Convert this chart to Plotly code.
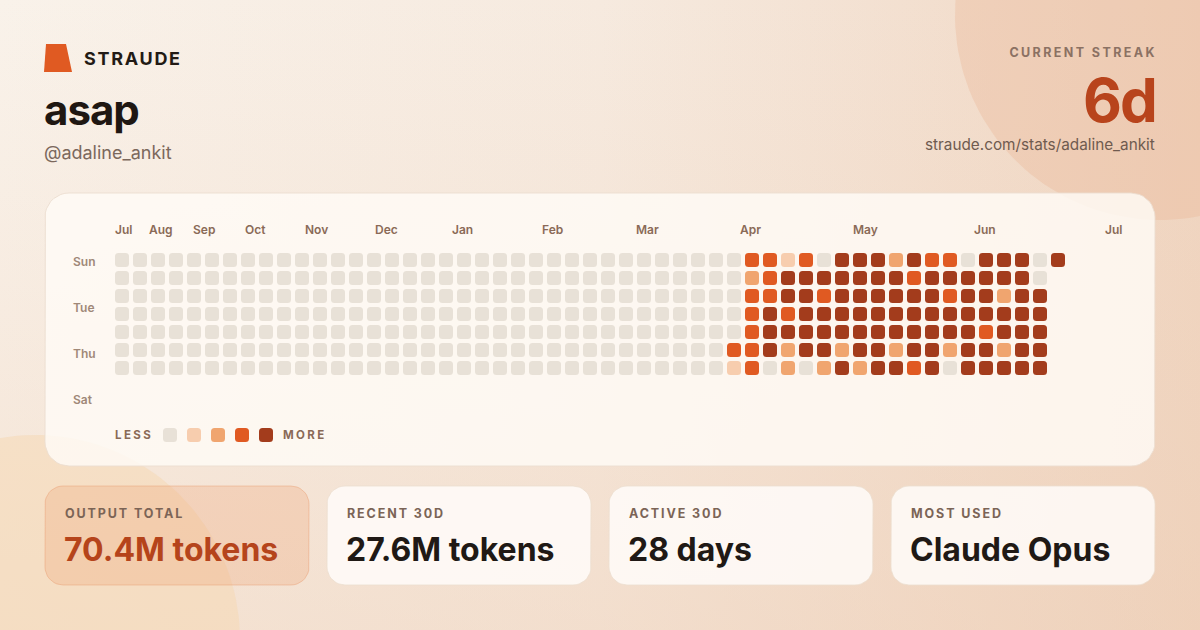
import numpy as np
import plotly.graph_objects as go

W, H = 1200, 630

# ---------------- data ----------------
DAYS = ["Sun", "Mon", "Tue", "Wed", "Thu", "Fri", "Sat"]
N_WEEKS = 53
QUIET_WEEKS = 34  # weeks 0..33 with no activity
# activity level (0-4) per weekday for weeks 34..52 ; None = day not in range
SUN = [0, 3, 3, 1, 3, 0, 4, 4, 4, 2, 4, 3, 3, 0, 4, 4, 4, 0, 4]
MON = [0, 2, 3, 4, 4, 4, 4, 4, 4, 4, 3, 4, 4, 4, 4, 4, 4, 0, None]
TUE = [0, 3, 3, 4, 4, 3, 4, 4, 4, 4, 4, 4, 3, 4, 4, 2, 4, 4, None]
WED = [0, 3, 4, 3, 4, 4, 4, 4, 4, 4, 4, 4, 4, 4, 4, 4, 4, 4, None]
THU = [0, 3, 4, 4, 4, 4, 4, 4, 4, 4, 4, 4, 4, 4, 3, 4, 4, 4, None]
FRI = [3, 3, 4, 2, 4, 4, 2, 4, 4, 2, 4, 4, 2, 4, 4, 2, 4, 4, None]
SAT = [1, 3, 0, 2, 0, 2, 4, 2, 4, 4, 3, 4, 0, 4, 4, 4, 4, 4, None]
ACTIVE_ROWS = [SUN, MON, TUE, WED, THU, FRI, SAT]

MONTHS = ["Jul", "Aug", "Sep", "Oct", "Nov", "Dec", "Jan", "Feb", "Mar", "Apr", "May", "Jun", "Jul"]
MONTH_WEEK_POS = [0.11, 2.17, 4.56, 7.39, 10.83, 14.67, 18.94, 23.89, 29.22, 34.94, 41.28, 47.94, 55.06]

LEVELS = [0, 1, 2, 3, 4]
LEVEL_COLORS = ["#E8E1D7", "#F7CDAE", "#F0A56F", "#E05A22", "#A33C1C"]

USER_NAME = "asap"
USER_HANDLE = "@adaline_ankit"
STREAK = "6d"
PROFILE_URL = "straude.com/stats/adaline_ankit"
STAT_LABELS = ["OUTPUT TOTAL", "RECENT 30D", "ACTIVE 30D", "MOST USED"]
STAT_VALUES = ["70.4M tokens", "27.6M tokens", "28 days", "Claude Opus"]

# ---------------- helpers ----------------
def rrect(x0, y0, x1, y1, r, n=10):
    xs, ys = [], []
    corners = [(x1 - r, y0 + r, -90, 0), (x1 - r, y1 - r, 0, 90),
               (x0 + r, y1 - r, 90, 180), (x0 + r, y0 + r, 180, 270)]
    for cx, cy, a0, a1 in corners:
        t = np.radians(np.linspace(a0, a1, n))
        xs += list(cx + r * np.cos(t))
        ys += list(cy + r * np.sin(t))
    xs.append(xs[0]); ys.append(ys[0])
    return xs, ys


def circle(cx, cy, r, n=160):
    t = np.linspace(0, 2 * np.pi, n)
    return list(cx + r * np.cos(t)), list(cy + r * np.sin(t))


def poly(xs, ys, fill, line="rgba(0,0,0,0)", lw=0, **kw):
    return go.Scatter(x=xs, y=ys, mode="lines", fill="toself", fillcolor=fill,
                      line=dict(color=line, width=lw), hoverinfo="skip",
                      showlegend=False, **kw)


fig = go.Figure()

# background gradient
bx, by = [0, W, W, 0, 0], [0, 0, H, H, 0]
fig.add_trace(go.Scatter(x=bx, y=by, mode="lines", fill="toself", line=dict(width=0, color="rgba(0,0,0,0)"),
                         fillgradient=dict(type="horizontal", colorscale=[[0, "#F9F2EA"], [0.5, "#F6EADF"], [1, "#F0D6C2"]]),
                         hoverinfo="skip", showlegend=False))
fig.add_trace(go.Scatter(x=bx, y=by, mode="lines", fill="toself", line=dict(width=0, color="rgba(0,0,0,0)"),
                         fillgradient=dict(type="vertical", start=0, stop=H,
                                           colorscale=[[0, "rgba(238,205,180,0)"], [1, "rgba(236,200,172,0.35)"]]),
                         hoverinfo="skip", showlegend=False))
# decorative circles
cx_, cy_ = circle(1160, 15, 205)
fig.add_trace(poly(cx_, cy_, "rgba(234,180,145,0.33)"))
cx_, cy_ = circle(35, 640, 205)
fig.add_trace(poly(cx_, cy_, "rgba(246,215,178,0.5)"))

# heatmap card
rx, ry = rrect(45, 193, 1155, 466, 24)
fig.add_trace(poly(rx, ry, "rgba(255,251,246,0.82)", "rgba(236,222,208,0.9)", 1))

# stat cards
CARD_X = [45, 327, 609, 891]
for i, x0 in enumerate(CARD_X):
    rx, ry = rrect(x0, 486, x0 + 264, 585, 18)
    if i == 0:
        fig.add_trace(poly(rx, ry, "rgba(236,160,115,0.28)", "rgba(232,155,110,0.45)", 1))
    else:
        fig.add_trace(poly(rx, ry, "rgba(255,252,249,0.86)", "rgba(236,222,208,0.8)", 1))

# logo
fig.add_trace(poly([46, 66, 72, 44, 46], [44, 44, 72, 72, 44], "#E05A22"))

# ---------------- heatmap cells ----------------
cell_x, cell_y, cell_c = [], [], []
for d, row in enumerate(ACTIVE_ROWS):
    full = [0] * QUIET_WEEKS + row
    for w in range(N_WEEKS):
        lv = full[w]
        if lv is None:
            continue
        cell_x.append(w)
        cell_y.append(d)
        cell_c.append(LEVEL_COLORS[lv])

fig.add_trace(go.Scatter(
    x=cell_x, y=cell_y, xaxis="x2", yaxis="y2", mode="markers",
    marker=dict(symbol="square", size=7, color=cell_c, line=dict(color=cell_c, width=7)),
    hoverinfo="skip", showlegend=False))

# legend squares
fig.add_trace(go.Scatter(
    x=LEVELS, y=[0] * len(LEVELS), xaxis="x3", yaxis="y3", mode="markers",
    marker=dict(symbol="square", size=7, color=LEVEL_COLORS, line=dict(color=LEVEL_COLORS, width=7)),
    hoverinfo="skip", showlegend=False))

# ---------------- text ----------------
ann = []


def txt(text, x, y, size, color, weight=400, anchor="left", xref="x", yref="y"):
    ann.append(dict(text=text, x=x, y=y, xref=xref, yref=yref, xanchor=anchor, yanchor="middle",
                    align=anchor if anchor in ("left", "right") else "center", showarrow=False,
                    font=dict(family="Inter", size=size, color=color, weight=weight)))


txt("STRAUDE", 82, 58, 18, "#221A15", 700)
txt(USER_NAME, 42, 109, 42, "#1F1712", 700)
txt(USER_HANDLE, 42, 152, 18, "#7B685C", 400)
txt("CURRENT STREAK", 1159, 52, 12.5, "#8B7163", 700, "right")
txt(STREAK, 1158, 100, 60, "#B8441C", 700, "right")
txt(PROFILE_URL, 1157, 144, 15.3, "#6F5B4F", 400, "right")

for m, p in zip(MONTHS, MONTH_WEEK_POS):
    txt(m, p, 229, 12, "#8A6A57", 600, "center", xref="x2")
for lbl, yy in zip(["Sun", "Tue", "Thu", "Sat"], [261, 307, 353, 399]):
    txt(lbl, 71, yy, 12, "#A08878", 600)

txt("LESS", 113, 435, 11.5, "#8A6A57", 700)
txt("MORE", 281, 435, 11.5, "#8A6A57", 700)

for i, x0 in enumerate(CARD_X):
    txt(STAT_LABELS[i], x0 + 18, 513, 12.5, "#7B6456", 700)
    txt(STAT_VALUES[i], x0 + 17, 549, 32, "#B5441B" if i == 0 else "#201915", 700)

fig.update_layout(
    width=W, height=H, margin=dict(l=0, r=0, t=0, b=0),
    paper_bgcolor="#F6ECE2", plot_bgcolor="rgba(0,0,0,0)",
    xaxis=dict(range=[0, W], visible=False, fixedrange=True),
    yaxis=dict(range=[H, 0], visible=False, fixedrange=True),
    # 18 px per week; range extended so the trailing month label stays visible
    xaxis2=dict(domain=[113 / W, (113 + 18 * 58) / W], range=[-0.5, 57.5], visible=False, anchor="y2"),
    yaxis2=dict(domain=[(H - 377) / H, (H - 251) / H], range=[6.5, -0.5], visible=False, anchor="x2"),
    xaxis3=dict(domain=[158 / W, 278 / W], range=[-0.5, 4.5], visible=False, anchor="y3"),
    yaxis3=dict(domain=[(H - 444) / H, (H - 426) / H], range=[-0.5, 0.5], visible=False, anchor="x3"),
    annotations=ann,
    showlegend=False,
    hovermode=False,
)

POST = """
var gd = document.getElementById('{plot_id}');
gd.querySelectorAll('.scatterlayer .points path.point').forEach(function(p){ p.style.strokeLinejoin = 'round'; });
var track = {'STRAUDE':'1.7px','CURRENT STREAK':'2.4px','LESS':'2.4px','MORE':'2.4px',
             'OUTPUT TOTAL':'1.9px','RECENT 30D':'1.9px','ACTIVE 30D':'1.9px','MOST USED':'1.9px',
             '6d':'-2px','asap':'-1px'};
gd.querySelectorAll('.annotation-text').forEach(function(t){ var s = t.textContent; if (track[s]) t.style.letterSpacing = track[s]; });
"""

fig.write_html("out.html", config={"displayModeBar": False, "staticPlot": True}, post_script=POST)
